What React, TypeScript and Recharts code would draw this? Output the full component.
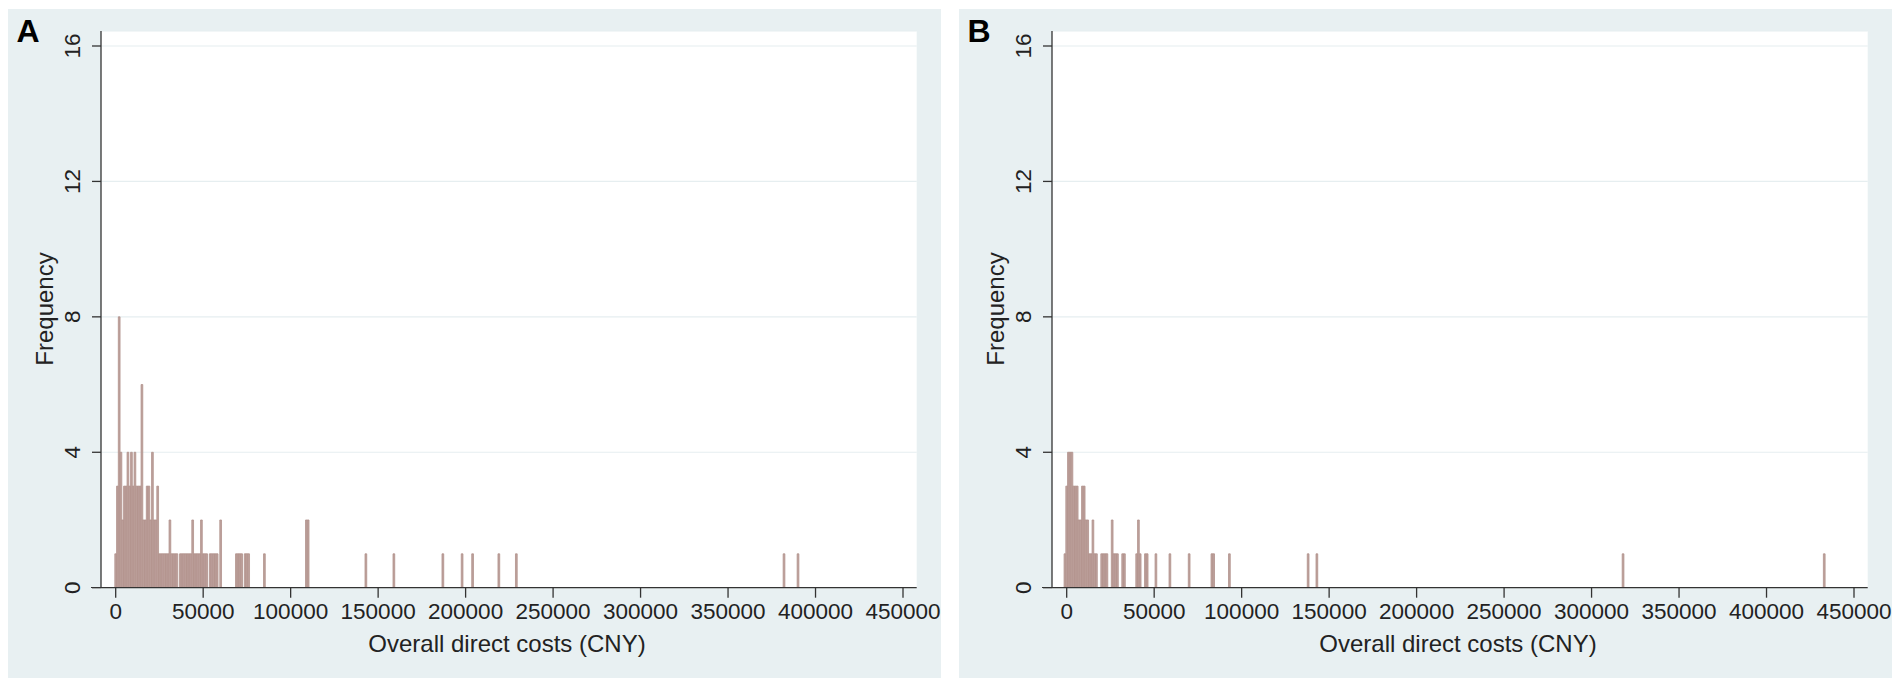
import React from 'react';
import { ComposedChart, Bar, XAxis, YAxis, CartesianGrid } from 'recharts';

// histogram bins (bin centre in CNY, width 1000) and frequencies
const binWidth = 1000;

const binsA = [
  0, 1000, 2000, 3000, 4000, 5000, 6000, 7000, 8000, 9000, 10000, 11000, 12000, 13000, 14000,
  15000, 16000, 17000, 18000, 19000, 20000, 21000, 22000, 23000, 24000, 25000, 26000, 27000,
  28000, 29000, 30000, 31000, 32000, 33000, 34000, 35000, 37000, 38000, 39000, 40000, 41000,
  42000, 43000, 44000, 45000, 46000, 47000, 48000, 49000, 50000, 51000, 52000, 54000, 55000,
  56000, 57000, 58000, 60000, 69000, 70000, 71000, 72000, 74000, 75000, 76000, 85000, 109000,
  110000, 143000, 159000, 187000, 198000, 204000, 219000, 229000, 382000, 390000,
];
const countsA = [
  1, 3, 8, 4, 2, 3, 3, 4, 3, 4, 3, 4, 3, 3, 3,
  6, 2, 2, 3, 3, 2, 4, 2, 2, 3, 1, 1, 1,
  1, 1, 1, 2, 1, 1, 1, 1, 1, 1, 1, 1, 1,
  1, 1, 2, 1, 1, 1, 1, 2, 1, 1, 1, 1, 1,
  1, 1, 1, 2, 1, 1, 1, 1, 1, 1, 1, 1, 2,
  2, 1, 1, 1, 1, 1, 1, 1, 1, 1,
];

const binsB = [
  -1000, 0, 1000, 2000, 3000, 4000, 5000, 6000, 7000, 8000, 9000, 10000, 11000, 12000, 13000,
  14000, 15000, 16000, 17000, 20000, 21000, 22000, 23000, 26000, 27000, 28000, 29000, 32000,
  33000, 40000, 41000, 42000, 45000, 46000, 51000, 59000, 70000, 83000, 84000, 93000, 138000,
  143000, 318000, 433000,
];
const countsB = [
  1, 3, 4, 4, 4, 3, 3, 3, 2, 2, 3, 3, 2, 2, 1,
  1, 2, 1, 1, 1, 1, 1, 1, 2, 1, 1, 1, 1,
  1, 1, 2, 1, 1, 1, 1, 1, 1, 1, 1, 1, 1,
  1, 1, 1,
];

const xTicks = [0, 50000, 100000, 150000, 200000, 250000, 300000, 350000, 400000, 450000];
const yTicks = [0, 4, 8, 12, 16];

const FONT = '"Liberation Sans", Arial, Helvetica, sans-serif';
const PANEL_W = 933;
const PANEL_H = 669;
const Y_AXIS_W = 60;
const X_AXIS_H = 60;
const margin = { top: 22, right: 24.3, bottom: 30.3, left: 33 };
const xDomain: [number, number] = [-8400, 457830];
const yDomain: [number, number] = [0, 16.443];

const plotW = PANEL_W - margin.left - Y_AXIS_W - margin.right;
const plotBottom = PANEL_H - margin.bottom - X_AXIS_H;
const barPx = (binWidth * plotW) / (xDomain[1] - xDomain[0]) - 0.02;

const axisStyle = { stroke: '#333', strokeWidth: 1.3 };

const XTick = ({ x, y, payload }: any) => (
  <text x={x} y={y + 19} textAnchor="middle" fontSize={22.5} fill="#222" fontFamily={FONT}>
    {payload.value}
  </text>
);

const YTick = ({ x, y, payload }: any) => (
  <text
    x={x}
    y={y}
    transform={`rotate(-90 ${x} ${y})`}
    textAnchor="middle"
    fontSize={22.5}
    fill="#222"
    fontFamily={FONT}
  >
    {payload.value}
  </text>
);

const Panel = ({ left, letter, bins, counts }: { left: number; letter: string; bins: number[]; counts: number[] }) => {
  const data = bins.map((x, i) => ({ x, count: counts[i] }));
  return (
    <div
      style={{
        position: 'absolute',
        left,
        top: 9,
        width: PANEL_W,
        height: PANEL_H,
        background: '#e8f0f2',
        fontFamily: FONT,
      }}
    >
      <ComposedChart width={PANEL_W} height={PANEL_H} data={data} margin={margin}>
        <CartesianGrid vertical={false} fill="#ffffff" stroke="#e6eef0" strokeWidth={1.2} />
        <XAxis
          type="number"
          dataKey="x"
          domain={xDomain}
          ticks={xTicks}
          interval={0}
          allowDataOverflow
          height={X_AXIS_H}
          tickSize={10}
          tickMargin={2}
          tick={<XTick />}
          axisLine={axisStyle}
          tickLine={axisStyle}
        />
        <YAxis
          type="number"
          domain={yDomain}
          ticks={yTicks}
          interval={0}
          allowDataOverflow
          width={Y_AXIS_W}
          tickSize={9}
          tickMargin={12}
          tick={<YTick />}
          axisLine={axisStyle}
          tickLine={axisStyle}
        />
        <Bar
          dataKey="count"
          fill="#bea29d"
          stroke="#b1928c"
          strokeWidth={0.8}
          barSize={barPx}
          isAnimationActive={false}
        />
      </ComposedChart>
      {/* x axis line runs a little past the y axis, as in the original */}
      <div
        style={{
          position: 'absolute',
          left: margin.left + Y_AXIS_W - 10,
          top: plotBottom - 0.65,
          width: 10,
          height: 1.3,
          background: '#333',
        }}
      />
      <div
        style={{
          position: 'absolute',
          left: 8.5,
          top: 5.6,
          fontSize: 32,
          lineHeight: '32px',
          fontWeight: 'bold',
          color: '#000',
        }}
      >
        {letter}
      </div>
      <div style={{ position: 'absolute', left: 36.5, top: 300, width: 0, height: 0 }}>
        <div
          style={{
            position: 'absolute',
            transform: 'translate(-50%, -50%) rotate(-90deg)',
            fontSize: 24,
            lineHeight: '24px',
            whiteSpace: 'nowrap',
            color: '#222',
          }}
        >
          Frequency
        </div>
      </div>
      <div style={{ position: 'absolute', left: 499, top: 635, width: 0, height: 0 }}>
        <div
          style={{
            position: 'absolute',
            transform: 'translate(-50%, -50%)',
            fontSize: 24,
            lineHeight: '24px',
            whiteSpace: 'nowrap',
            color: '#222',
          }}
        >
          Overall direct costs (CNY)
        </div>
      </div>
    </div>
  );
};

export default function App() {
  return (
    <div style={{ position: 'absolute', left: 0, top: 0, width: 1902, height: 689, background: '#fff' }}>
      <Panel left={8} letter="A" bins={binsA} counts={countsA} />
      <Panel left={959} letter="B" bins={binsB} counts={countsB} />
    </div>
  );
}
